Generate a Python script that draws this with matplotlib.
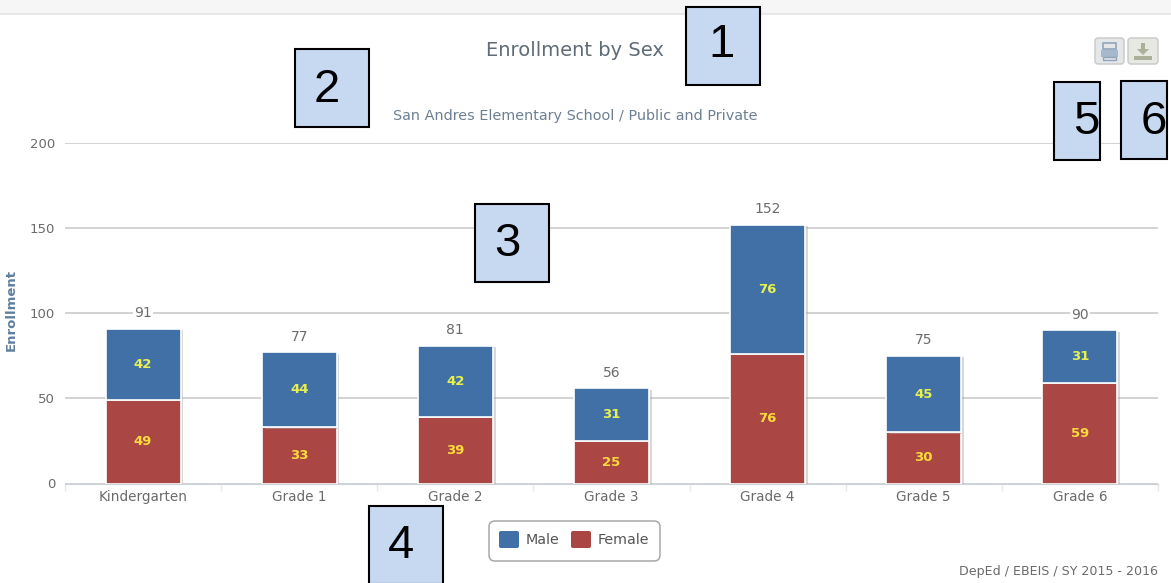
import matplotlib
matplotlib.use('Agg')
import matplotlib.pyplot as plt
import matplotlib.patheffects as pe
from matplotlib.patches import Rectangle, FancyBboxPatch, Polygon
import numpy as np

plt.rcParams['font.family'] = ['DejaVu Sans']

grades = ['Kindergarten', 'Grade 1', 'Grade 2', 'Grade 3', 'Grade 4', 'Grade 5', 'Grade 6']
male = [42, 44, 42, 31, 76, 45, 31]
female = [49, 33, 39, 25, 76, 30, 59]
totals = [91, 77, 81, 56, 152, 75, 90]
y_ticks = [0, 50, 100, 150, 200]

W, H = 1171, 583
BLUE = '#4070a5'
RED = '#aa4643'
GREY = '#6b6b6b'

fig = plt.figure(figsize=(W / 100, H / 100), dpi=100)

# chart area in pixels
left, right, top, bottom = 65, 1158, 143, 483.5
ax = fig.add_axes([left / W, 1 - bottom / H, (right - left) / W, (bottom - top) / H])
x = np.arange(len(grades))
shadow = [pe.withSimplePatchShadow(offset=(2, -1), shadow_rgbFace='#aaaaaa', alpha=0.45)]

ax.bar(x, female, 0.48, color=RED, edgecolor='white', linewidth=1.2, zorder=3, path_effects=shadow)
ax.bar(x, male, 0.48, bottom=female, color=BLUE, edgecolor='white', linewidth=1.2, zorder=3, path_effects=shadow)

for i in x:
    ax.text(i, female[i] / 2, str(female[i]), ha='center', va='center', color='#ffdc3c',
            fontsize=9.5, fontweight='bold', zorder=4)
    ax.text(i, female[i] + male[i] / 2, str(male[i]), ha='center', va='center', color='#e8f050',
            fontsize=9.5, fontweight='bold', zorder=4)
    ax.text(i, totals[i] + 9, str(totals[i]), ha='center', va='center', color=GREY, fontsize=10, zorder=4,
            bbox=dict(facecolor='white', edgecolor='none', pad=1))

ax.set_xlim(-0.5, len(grades) - 0.5)
ax.set_ylim(0, 200)
ax.set_yticks(y_ticks)
ax.set_xticks(x)
ax.set_xticklabels(grades)
ax.set_xticks(np.arange(len(grades) + 1) - 0.5, minor=True)
ax.tick_params(axis='x', which='major', length=0, labelsize=9.8, labelcolor=GREY, pad=5)
ax.tick_params(axis='x', which='minor', length=5, color='#e4e8ee', width=1)
ax.tick_params(axis='y', length=0, labelsize=9.5, labelcolor=GREY, pad=7)
ax.grid(axis='y', color='#cbcbcb', linewidth=1.2, zorder=0)
ax.set_axisbelow(True)
for s in ['top', 'right', 'left']:
    ax.spines[s].set_visible(False)
ax.spines['bottom'].set_color('#cbd2da')
ax.set_ylabel('Enrollment', color='#5f7f9f', fontsize=9.5, fontweight='bold')
ax.yaxis.set_label_coords(-0.043, 0.51)

# overlay in picture pixels for page furniture
ov = fig.add_axes([0, 0, 1, 1], facecolor='none')
ov.set_xlim(0, W)
ov.set_ylim(H, 0)
ov.axis('off')

ov.add_patch(Rectangle((0, 0), W, 13, facecolor='#f6f6f6', edgecolor='none'))
ov.plot([0, W], [13.5, 13.5], color='#e8e8e8', linewidth=1.5)

ov.text(575, 51, 'Enrollment by Sex', ha='center', va='center', color='#5f6b76', fontsize=14)
ov.text(575, 116, 'San Andres Elementary School / Public and Private', ha='center', va='center',
        color='#6d7f92', fontsize=10.4)
ov.text(1158, 572, 'DepEd / EBEIS / SY 2015 - 2016', ha='right', va='center', color='#6b6b6b', fontsize=9.1)

# legend
ov.add_patch(FancyBboxPatch((489, 521), 171, 40, boxstyle='round,pad=0,rounding_size=6',
                            facecolor='white', edgecolor='#a8a8a8', linewidth=1.1))
for px, col, name in [(499, BLUE, 'Male'), (571, RED, 'Female')]:
    ov.add_patch(FancyBboxPatch((px, 531), 20, 17, boxstyle='round,pad=0,rounding_size=2',
                                facecolor=col, edgecolor='none'))
    ov.text(px + 27, 540, name, ha='left', va='center', color='#555555', fontsize=10.3)

# export buttons
ov.add_patch(FancyBboxPatch((1095, 38), 29, 26, boxstyle='round,pad=0,rounding_size=3',
                            facecolor='#e4e6e8', edgecolor='#c8c8c8', linewidth=1))
ov.add_patch(Rectangle((1103, 43), 13, 6, facecolor='#e4e6e8', edgecolor='#8fa4ba', linewidth=1.2))
ov.add_patch(Rectangle((1101, 50), 17, 7, facecolor='#a5b8cc', edgecolor='none'))
ov.add_patch(Rectangle((1103, 57), 13, 3, facecolor='#e4e6e8', edgecolor='#8fa4ba', linewidth=1))

ov.add_patch(FancyBboxPatch((1128, 38), 30, 26, boxstyle='round,pad=0,rounding_size=3',
                            facecolor='#e6e8e2', edgecolor='#c8c8c8', linewidth=1))
ov.add_patch(Rectangle((1141, 43), 4, 6, facecolor='#aab09a', edgecolor='none'))
ov.add_patch(Polygon([(1137, 49), (1149, 49), (1143, 55)], facecolor='#aab09a', edgecolor='none'))
ov.add_patch(Rectangle((1134, 56), 18, 4, facecolor='#aab09a', edgecolor='none'))

# numbered callouts
callouts = [('1', 686, 7, 74, 78, 722, 45), ('2', 295, 49, 74, 78, 327, 90), ('3', 475, 204, 74, 78, 507, 244),
            ('4', 369, 506, 74, 78, 401, 546), ('5', 1054, 82, 46, 78, 1086, 122), ('6', 1121, 81, 46, 78, 1154, 122)]
for label, bx, by, bw, bh, tx, ty in callouts:
    ov.add_patch(Rectangle((bx, by), bw, bh, facecolor='#c6d9f1', edgecolor='black', linewidth=1.5, zorder=5))
    ov.text(tx, ty, label, ha='center', va='center', color='black', fontsize=34,
            fontfamily='Liberation Sans', zorder=6)

fig.savefig('out.png', dpi=100)
